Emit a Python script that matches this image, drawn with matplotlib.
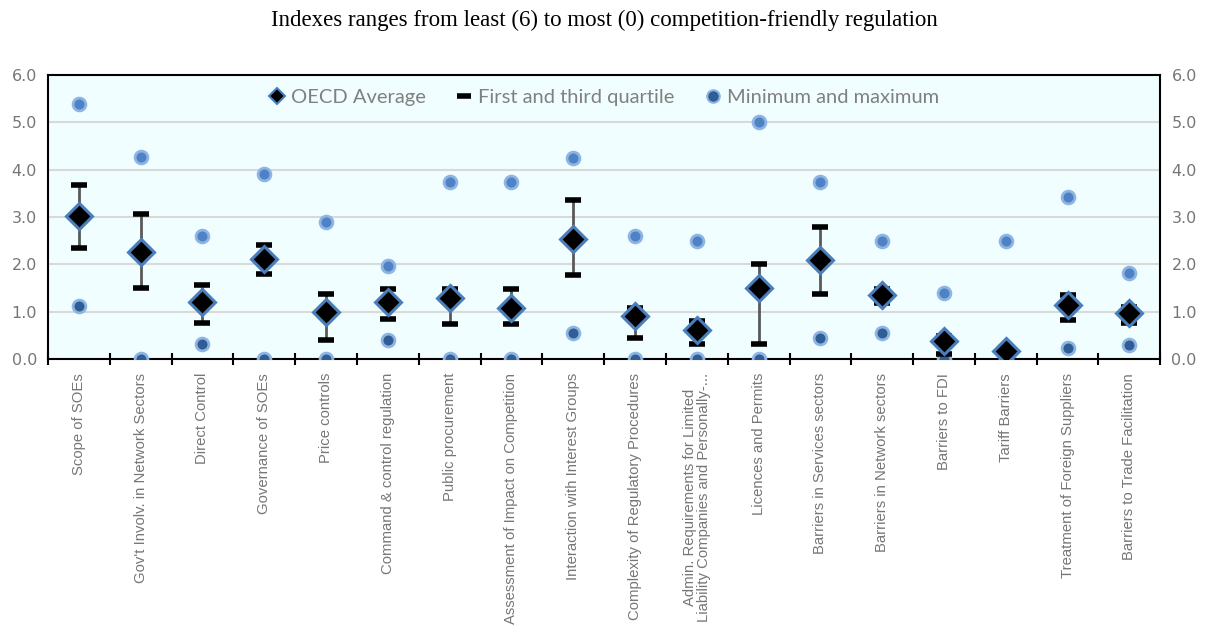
import numpy as np
import matplotlib.pyplot as plt
from matplotlib.lines import Line2D

categories = [
    'Scope of SOEs',
    "Gov't Involv. in Network Sectors",
    'Direct Control',
    'Governance of SOEs',
    'Price controls',
    'Command & control regulation',
    'Public procurement',
    'Assessment of Impact on Competition',
    'Interaction with Interest Groups',
    'Complexity of Regulatory Procedures',
    'Admin. Requirements for Limited\nLiability Companies and Personally-...',
    'Licences and Permits',
    'Barriers in Services sectors',
    'Barriers in Network sectors',
    'Barriers to FDI',
    'Tariff Barriers',
    'Treatment of Foreign Suppliers',
    'Barriers to Trade Facilitation',
]
oecd_avg = [3.02, 2.26, 1.21, 2.11, 1.00, 1.21, 1.28, 1.07, 2.53, 0.90, 0.61, 1.51, 2.10, 1.36, 0.38, 0.18, 1.15, 0.97]
q1 = [2.35, 1.49, 0.76, 1.80, 0.40, 0.84, 0.74, 0.74, 1.77, 0.45, 0.31, 0.31, 1.38, 1.18, 0.10, 0.14, 0.82, 0.76]
q3 = [3.67, 3.06, 1.56, 2.40, 1.38, 1.48, 1.48, 1.48, 3.35, 1.07, 0.81, 2.00, 2.78, 1.47, 0.49, 0.21, 1.36, 1.09]
vmin = [1.12, 0.0, 0.32, 0.0, 0.0, 0.40, 0.0, 0.0, 0.56, 0.0, 0.0, 0.0, 0.45, 0.56, 0.0, 0.0, 0.24, 0.29]
vmax = [5.38, 4.26, 2.60, 3.90, 2.89, 1.96, 3.74, 3.74, 4.24, 2.60, 2.50, 5.01, 3.74, 2.50, 1.39, 2.50, 3.43, 1.81]

x = np.arange(len(categories))

fig = plt.figure(figsize=(12.09, 6.28), dpi=100)
ax = fig.add_axes([0.0397, 0.4283, 0.92, 0.4523])
ax.set_facecolor('#f1feff')

# min / max dots
ax.scatter(x, vmax, s=85, color='#4f82c4', edgecolors='#8db4e2', linewidths=2, zorder=3)
ax.scatter(x, vmin, s=85, color='#2f5d94', edgecolors='#8db4e2', linewidths=2, zorder=3)

# quartile range
ax.vlines(x, q1, q3, color='#595959', linewidth=2, zorder=3)
ax.plot(x, q1, linestyle='none', marker='_', markersize=11, markeredgewidth=4, color='black', zorder=4)
ax.plot(x, q3, linestyle='none', marker='_', markersize=11, markeredgewidth=4, color='black', zorder=4)

# average
ax.plot(x, oecd_avg, linestyle='none', marker='D', markersize=13, markerfacecolor='black',
        markeredgecolor='#4a7ebb', markeredgewidth=2.2, zorder=5)

ax.set_xlim(-0.5, len(categories) - 0.5)
ax.set_ylim(0, 6)
ax.set_yticks(np.arange(0, 6.1, 1))
ax.set_yticklabels([f'{v:.1f}' for v in np.arange(0, 6.1, 1)])
ax.yaxis.grid(True, color='#d9d9d9', linewidth=1.5, zorder=0)
ax.set_axisbelow(True)
ax.tick_params(axis='y', length=0, labelsize=11.5, labelcolor='#767676', pad=8,
               labelright=True, right=False)
for lab in ax.get_yticklabels():
    lab.set_fontfamily('Liberation Sans Narrow')

ax.set_xticks(x)
ax.set_xticklabels(categories, rotation=90, fontsize=10.7, color='#767676',
                   fontfamily='Liberation Sans', va='top', ha='center', linespacing=1.0)
ax.set_xticks(np.arange(-0.5, len(categories)), minor=True)
ax.tick_params(axis='x', which='major', length=0, pad=10)
ax.tick_params(axis='x', which='minor', length=8, width=1.5, direction='inout', color='black')

for sp in ax.spines.values():
    sp.set_color('black')
    sp.set_linewidth(1.5)

handles = [
    Line2D([], [], linestyle='none', marker='D', markersize=8, markerfacecolor='black',
           markeredgecolor='#4a7ebb', markeredgewidth=1.5),
    Line2D([], [], linestyle='none', marker='_', markersize=10, markeredgewidth=4, color='black'),
    Line2D([], [], linestyle='none', marker='o', markersize=9, markerfacecolor='#2f5d94',
           markeredgecolor='#8db4e2', markeredgewidth=1.5),
]
leg = ax.legend(handles, ['OECD Average', 'First and third quartile', 'Minimum and maximum'],
                loc='upper center', bbox_to_anchor=(0.5, 1.015), ncol=3, frameon=False,
                handlelength=0.8, handletextpad=0.3, columnspacing=1.5,
                prop={'family': 'Lato', 'size': 14.5})
for t in leg.get_texts():
    t.set_color('#808080')

fig.text(0.5, 0.968, 'Indexes ranges from least (6) to most (0) competition-friendly regulation',
         ha='center', va='center', fontsize=16.5, fontfamily='Liberation Serif', color='black')

fig.savefig('out.png', dpi=100)
